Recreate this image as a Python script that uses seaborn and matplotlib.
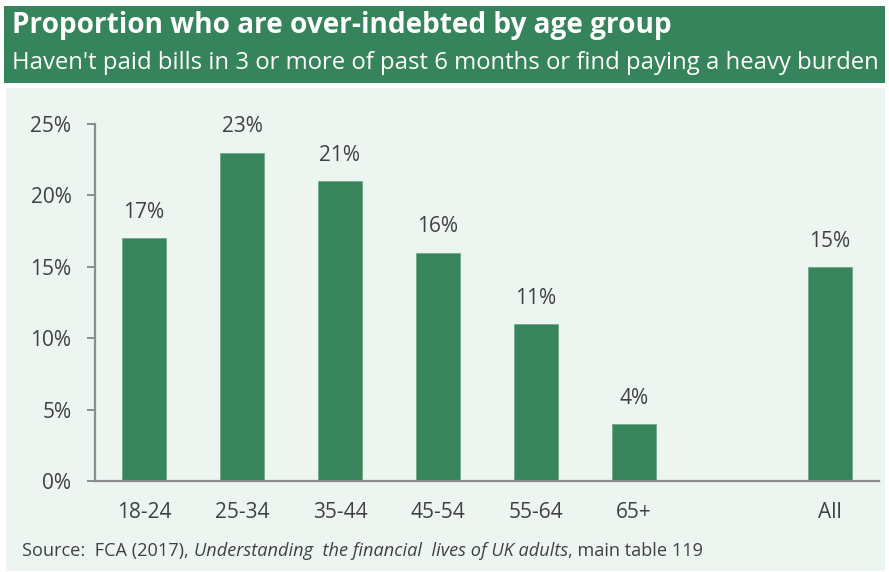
import matplotlib
matplotlib.use("Agg")
import matplotlib.pyplot as plt
from matplotlib.patches import Rectangle
import seaborn as sns
import pandas as pd

# Data
age_groups = ["18-24", "25-34", "35-44", "45-54", "55-64", "65+", "All"]
over_indebted_pct = [17, 23, 21, 16, 11, 4, 15]
slot_order = ["18-24", "25-34", "35-44", "45-54", "55-64", "65+", " ", "All"]
y_ticks = [0, 5, 10, 15, 20, 25]
y_tick_labels = ["0%", "5%", "10%", "15%", "20%", "25%"]

title = "Proportion who are over-indebted by age group"
subtitle = "Haven't paid bills in 3 or more of past 6 months or find paying a heavy burden"

HEADER_GREEN = "#36845B"
BAR_GREEN = "#37855B"
PANEL = "#ECF5F0"
TEXT = "#404040"
AXIS = "#8C8C8C"

sns.set_theme(style="white")
plt.rcParams["font.family"] = ["Open Sans", "DejaVu Sans"]

W, H = 889, 572
fig = plt.figure(figsize=(W / 100, H / 100), dpi=100)
fig.patch.set_facecolor("white")

# Header band and chart panel
fig.add_artist(Rectangle((4 / W, 1 - 83 / H), 881 / W, 77 / H,
                         transform=fig.transFigure, facecolor=HEADER_GREEN,
                         edgecolor="none", zorder=0))
fig.add_artist(Rectangle((6 / W, 1 - 571 / H), 879 / W, 483 / H,
                         transform=fig.transFigure, facecolor=PANEL,
                         edgecolor="none", zorder=0))

fig.text(12 / W, 1 - 33 / H, title, color="white", fontsize=20.2,
         fontweight="bold", va="baseline", ha="left")
fig.text(12 / W, 1 - 69 / H, subtitle, color="white", fontsize=17.2,
         va="baseline", ha="left")

ax = fig.add_axes([95 / W, 1 - 481 / H, 784 / W, 357 / H])
ax.set_facecolor("none")

df = pd.DataFrame({"group": age_groups, "pct": over_indebted_pct})
sns.barplot(data=df, x="group", y="pct", order=slot_order, color=BAR_GREEN,
            saturation=1, width=0.45, edgecolor="#6DAA88", linewidth=0.6,
            ax=ax)

ax.set_xlim(-0.5, len(slot_order) - 0.5)
ax.set_ylim(0, 25)
ax.set_yticks(y_ticks)
ax.set_yticklabels(y_tick_labels)
ax.set_xlabel("")
ax.set_ylabel("")

for s in ["top", "right"]:
    ax.spines[s].set_visible(False)
for s in ["left", "bottom"]:
    ax.spines[s].set_color(AXIS)
    ax.spines[s].set_linewidth(1.6)

ax.tick_params(axis="y", length=6, width=1.4, color=AXIS, pad=11,
               labelsize=15, labelcolor=TEXT, left=True)
ax.tick_params(axis="x", length=0, pad=15, labelsize=15, labelcolor=TEXT)

for container in ax.containers:
    for bar in container:
        h = bar.get_height()
        if h != h:  # skip empty slot
            continue
        ax.annotate(f"{h:.0f}%", (bar.get_x() + bar.get_width() / 2, h),
                    xytext=(0, 18.5), textcoords="offset points",
                    ha="center", va="center", fontsize=15, color=TEXT)

# Source line with italic publication title
src_y = 1 - 551 / H
fs = 13.1
t1 = fig.text(22 / W, src_y, "Source:  FCA (2017), ", fontsize=fs,
              color=TEXT, va="center", ha="left")
fig.canvas.draw()
r = fig.canvas.get_renderer()
x = t1.get_window_extent(r).x1
t2 = fig.text(x / W, src_y, "Understanding  the financial  lives of UK adults",
              fontsize=fs, color=TEXT, style="italic", va="center", ha="left")
x = t2.get_window_extent(r).x1
fig.text(x / W, src_y, ", main table 119", fontsize=fs, color=TEXT,
         va="center", ha="left")

fig.savefig("out.png", dpi=100, facecolor=fig.get_facecolor())
